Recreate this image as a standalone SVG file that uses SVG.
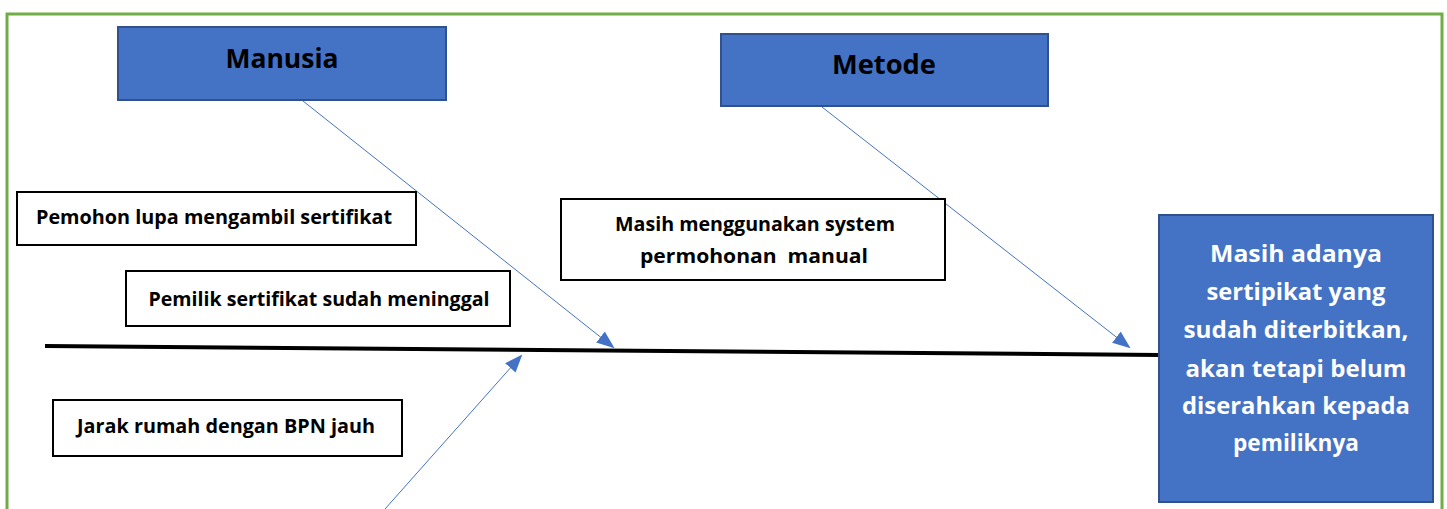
<svg xmlns="http://www.w3.org/2000/svg" width="1447" height="509" viewBox="0 0 1447 509">
<style>
.cat{fill:#4472C4;stroke:#2F528F;stroke-width:2}
.cause{fill:#fff;stroke:#000;stroke-width:2}
.t{font-family:"Open Sans","Liberation Sans",sans-serif;font-weight:bold;text-anchor:middle}
.ct{font-size:26px;fill:#000}
.st{font-size:19px;fill:#000}
.et{font-size:23.5px;fill:#fff}
.bone{stroke:#4472C4;stroke-width:1;fill:none;marker-end:url(#ah)}
</style>
<defs>
<marker id="ah" markerWidth="18" markerHeight="14" refX="16" refY="7" orient="auto" markerUnits="userSpaceOnUse">
<path d="M0,0 L18,7 L0,14 Z" fill="#4472C4"/>
</marker>
</defs>
<rect width="1447" height="509" fill="#fff"/>
<rect x="7" y="14" width="1435" height="510" fill="none" stroke="#70AD47" stroke-width="3"/>
<g id="connectors">
<line x1="45" y1="346" x2="1160" y2="355" stroke="#000" stroke-width="4"/>
<line class="bone" x1="303" y1="101" x2="613" y2="347"/>
<line class="bone" x1="822" y1="107" x2="1129" y2="347"/>
<line class="bone" x1="385" y1="509" x2="521" y2="356"/>
</g>
<g id="manusia">
<rect class="cat" x="118" y="27" width="328" height="73"/>
<text class="t ct" x="282" y="68" textLength="113" lengthAdjust="spacingAndGlyphs">Manusia</text>
</g>
<g id="metode">
<rect class="cat" x="721" y="34" width="327" height="72"/>
<text class="t ct" x="884" y="74" textLength="104" lengthAdjust="spacingAndGlyphs">Metode</text>
</g>
<g id="effect">
<rect class="cat" x="1159" y="215" width="274" height="287"/>
<text class="t et" x="1296" y="262" textLength="172" lengthAdjust="spacingAndGlyphs">Masih adanya</text>
<text class="t et" x="1296" y="300" textLength="179" lengthAdjust="spacingAndGlyphs">sertipikat yang</text>
<text class="t et" x="1296" y="338" textLength="225" lengthAdjust="spacingAndGlyphs">sudah diterbitkan,</text>
<text class="t et" x="1296" y="377" textLength="221" lengthAdjust="spacingAndGlyphs">akan tetapi belum</text>
<text class="t et" x="1296" y="414" textLength="228" lengthAdjust="spacingAndGlyphs">diserahkan kepada</text>
<text class="t et" x="1296" y="451" textLength="126" lengthAdjust="spacingAndGlyphs">pemiliknya</text>
</g>
<g id="cause1">
<rect class="cause" x="17" y="192" width="399" height="53"/>
<text class="t st" x="214" y="224" textLength="356" lengthAdjust="spacingAndGlyphs">Pemohon lupa mengambil sertifikat</text>
</g>
<g id="cause2">
<rect class="cause" x="126" y="271" width="384" height="55"/>
<text class="t st" x="319" y="306" textLength="341" lengthAdjust="spacingAndGlyphs">Pemilik sertifikat sudah meninggal</text>
</g>
<g id="cause3">
<rect class="cause" x="561" y="199" width="384" height="81"/>
<text class="t st" x="755" y="231" textLength="280" lengthAdjust="spacingAndGlyphs">Masih menggunakan system</text>
<text class="t st" x="754" y="263" textLength="228" lengthAdjust="spacingAndGlyphs" xml:space="preserve">permohonan  manual</text>
</g>
<g id="cause4">
<rect class="cause" x="53" y="400" width="349" height="56"/>
<text class="t st" x="226" y="433" textLength="298" lengthAdjust="spacingAndGlyphs">Jarak rumah dengan BPN jauh</text>
</g>
</svg>
